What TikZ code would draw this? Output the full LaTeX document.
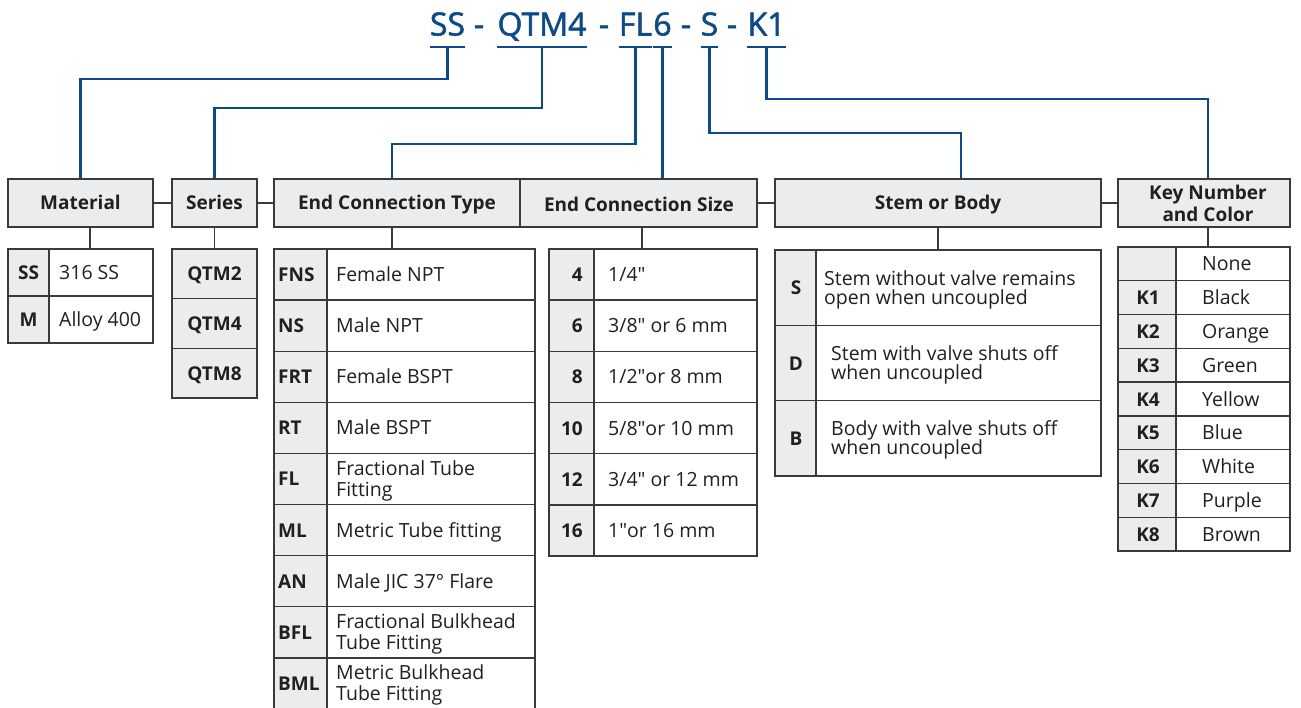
\documentclass[tikz,border=0pt]{standalone}
\usepackage{fontspec}
\setmainfont{Open Sans}
\newfontfamily\ttlff[RawFeature={embolden=1.6}]{Open Sans}
\definecolor{refblue}{HTML}{0B4A8C}
\definecolor{cellgray}{HTML}{EBECEE}
\definecolor{edgegray}{HTML}{3A3A3A}
\definecolor{inkc}{HTML}{231F20}
\newcommand\ttlfont{\ttlff\fontsize{32}{34}\selectfont}
\newcommand\hdrfont{\fontsize{19}{21}\selectfont\bfseries}
\newcommand\codefont{\fontsize{19}{21}\selectfont\bfseries}
\newcommand\bodyfont{\fontsize{19.5}{21}\selectfont}
\newcommand\qq{\textquotedbl}
\begin{document}
\begin{tikzpicture}[x=1pt,y=-1pt,
  bl/.style={draw=refblue, line width=2.2pt},
  gl/.style={draw=edgegray, line width=1.4pt},
  hdr/.style={draw=edgegray, line width=1.4pt, fill=cellgray, inner sep=0pt, font=\hdrfont, text=inkc, minimum height=48pt, text height=13.6pt, text depth=0pt},
  hdrtxt/.style={inner sep=0pt, font=\hdrfont, text=inkc},
  codecell/.style={draw=edgegray, line width=1.4pt, fill=cellgray, inner sep=0pt},
  txtcell/.style={draw=edgegray, line width=1.4pt, fill=white, inner sep=0pt},
  codetxt/.style={inner sep=0pt, font=\codefont, text=inkc},
  bodytxt/.style={inner sep=0pt, font=\bodyfont, text=inkc},
  ttl/.style={inner sep=0pt, anchor=base, font=\ttlfont, text=refblue},
]
\useasboundingbox (0,0) rectangle (1301,707);
\fill[white] (0,0) rectangle (1301,707);

% ---------- title ----------
\node[ttl] (tSS) at (447.5,35.5) {SS};
\node[ttl] (d1) at (479,35.5) {-};
\node[ttl] (tQ) at (542,35.5) {QTM4};
\node[ttl] (d2) at (604,35.5) {-};
\node[ttl] (tFL) at (635.5,35.5) {FL};
\node[ttl] (t6) at (662.5,35.5) {6};
\node[ttl] (d3) at (686,35.5) {-};
\node[ttl] (tS) at (709.5,35.5) {S};
\node[ttl] (d4) at (732,35.5) {-};
\node[ttl] (tK) at (766.5,35.5) {K1};

% ---------- headers ----------
\node[hdr, minimum width=145pt] (mat) at (80.5,203) {Material};
\node[hdr, minimum width=85pt] (ser) at (214.5,203) {Series};
\node[hdr, minimum width=246pt] (ect) at (397,203) {End Connection Type};
\node[hdr, minimum width=237pt] (ecs) at (638.5,203) {};
\node[hdrtxt, anchor=base] (ecst) at (639,211) {End Connection Size};
\node[hdr, minimum width=326pt] (stem) at (938,203) {Stem or Body};
\node[hdr, minimum width=172pt] (key) at (1204,203) {};
\node[hdrtxt, anchor=base] (key1) at (1208,199.5) {Key Number};
\node[hdrtxt, anchor=base] (key2) at (1208,221) {and Color};

% ---------- blue connectors ----------
\draw[bl] (tSS.west |- 0,47) -- (tSS.east |- 0,47);
\draw[bl] (tQ.west |- 0,47) -- (tQ.east |- 0,47);
\draw[bl] (tFL.west |- 0,47) -- (tFL.east |- 0,47);
\draw[bl] (t6.west |- 0,47) -- (t6.east |- 0,47);
\draw[bl] (tS.west |- 0,47) -- (tS.east |- 0,47);
\draw[bl] (tK.west |- 0,47) -- (tK.east |- 0,47);
\draw[bl] (tSS.center |- 0,47) -- ++(0,32) -| (mat.north);
\draw[bl] (tQ.center |- 0,47) -- ++(0,61) -| (ser.north);
\draw[bl] (tFL.center |- 0,47) -- ++(0,97) -| ([xshift=-5pt]ect.north);
\draw[bl] (t6.center |- 0,47) -- (t6.center |- ecs.north);
\draw[bl] (tS.center |- 0,47) -- ++(0,86) -| ([xshift=23pt]stem.north);
\draw[bl] (tK.center |- 0,47) -- ++(0,52) -| ([xshift=4pt]key.north);

% ---------- gray links between headers ----------
\draw[gl] (mat.east) -- (ser.west);
\draw[gl] (ser.east) -- (ect.west);
\draw[gl] (ecs.east) -- (stem.west);
\draw[gl] (stem.east) -- (key.west);

% ---------- Material table ----------
\foreach \c/\t [count=\i] in {SS/316 SS, M/Alloy 400}{
  \pgfmathsetmacro\yc{249+47*(\i-1)+23.5}
  \node[codecell, minimum width=41pt, minimum height=47pt] (matc\i) at (28.5,\yc) {};
  \node[txtcell, minimum width=104pt, minimum height=47pt] (matd\i) at (101,\yc) {};
  \node[codetxt, anchor=base] (matcl\i) at (28.5,\yc+7) {\c};
  \node[bodytxt, anchor=base west] (matdl\i) at (59,\yc+7) {\t};
}

% ---------- Series table ----------
\foreach \c [count=\i] in {QTM2,QTM4,QTM8}{
  \pgfmathsetmacro\yc{249+49.67*(\i-1)+24.83}
  \node[codecell, minimum width=85pt, minimum height=49.67pt] (serc\i) at (214.5,\yc) {};
  \node[codetxt, anchor=base] (sercl\i) at (214.5,\yc+7) {\c};
}

% ---------- End Connection Type table ----------
\foreach \c/\a/\b/\n [count=\i] in {FNS/Female NPT//1, NS/Male NPT//1, FRT/Female BSPT//1, RT/Male BSPT//1, FL/Fractional Tube/Fitting/2, ML/Metric Tube fitting//1, AN/Male JIC 37° Flare//1, BFL/Fractional Bulkhead/Tube Fitting/2, BML/Metric Bulkhead/Tube Fitting/2}{
  \pgfmathsetmacro\yc{249+51.1*(\i-1)+25.55}
  \node[codecell, minimum width=53pt, minimum height=51.1pt] (ectc\i) at (300.5,\yc) {};
  \node[txtcell, minimum width=208pt, minimum height=51.1pt] (ectd\i) at (431,\yc) {};
  \node[codetxt, anchor=base west] (ectcl\i) at (278,\yc+7) {\c};
  \ifnum\n=1
    \node[bodytxt, anchor=base west] (ectda\i) at (336,\yc+7) {\a};
  \else
    \node[bodytxt, anchor=base west] (ectda\i) at (336,\yc-3.5) {\a};
    \node[bodytxt, anchor=base west] (ectdb\i) at (336,\yc+17.5) {\b};
  \fi
}

% ---------- End Connection Size table ----------
\foreach \c/\t [count=\i] in {4/{1/4\qq}, 6/{3/8\qq{} or 6 mm}, 8/{1/2\qq{}or 8 mm}, 10/{5/8\qq{}or 10 mm}, 12/{3/4\qq{} or 12 mm}, 16/{1\qq{}or 16 mm}}{
  \pgfmathsetmacro\yc{249+51.17*(\i-1)+25.58}
  \node[codecell, minimum width=45pt, minimum height=51.17pt] (ecsc\i) at (571.5,\yc) {};
  \node[txtcell, minimum width=163pt, minimum height=51.17pt] (ecsd\i) at (675.5,\yc) {};
  \node[codetxt, anchor=base east] (ecscl\i) at (583,\yc+7) {\c};
  \node[bodytxt, anchor=base west] (ecsdl\i) at (608,\yc+7) {\t};
}

% ---------- Stem or Body table ----------
\foreach \c/\x/\a/\b [count=\i] in {S/824/Stem without valve remains/open when uncoupled, D/831/Stem with valve shuts off/when uncoupled, B/831/Body with valve shuts off/when uncoupled}{
  \pgfmathsetmacro\yc{250+75.33*(\i-1)+37.67}
  \node[codecell, minimum width=41pt, minimum height=75.33pt] (stc\i) at (795.5,\yc) {};
  \node[txtcell, minimum width=285pt, minimum height=75.33pt] (std\i) at (958.5,\yc) {};
  \node[codetxt, anchor=base] (stcl\i) at (796,\yc+7) {\c};
  \node[bodytxt, anchor=base west] (stda\i) at (\x,\yc-2.5) {\a};
  \node[bodytxt, anchor=base west] (stdb\i) at (\x,\yc+16.5) {\b};
}

% ---------- Key table ----------
\foreach \c/\t [count=\i] in {/None, K1/Black, K2/Orange, K3/Green, K4/Yellow, K5/Blue, K6/White, K7/Purple, K8/Brown}{
  \pgfmathsetmacro\yc{247+33.78*(\i-1)+16.89}
  \node[codecell, minimum width=58pt, minimum height=33.78pt] (kc\i) at (1147,\yc) {};
  \node[txtcell, minimum width=114pt, minimum height=33.78pt] (kd\i) at (1233,\yc) {};
  \node[codetxt, anchor=base] (kcl\i) at (1148,\yc+7) {\c};
  \node[bodytxt, anchor=base west] (kdl\i) at (1202,\yc+7) {\t};
}

% ---------- gray stubs header -> table ----------
\draw[gl] ([xshift=9.5pt]mat.south) -- ([xshift=9.5pt]mat.south |- matd1.north);
\draw[gl] (ser.south) -- (serc1.north);
\draw[gl] ([xshift=-5pt]ect.south) -- ([xshift=-5pt]ect.south |- ectd1.north);
\draw[gl] ([xshift=3.5pt]ecs.south) -- ([xshift=3.5pt]ecs.south |- ecsd1.north);
\draw[gl] (stem.south) -- (stem.south |- std1.north);
\draw[gl] ([xshift=4pt]key.south) -- ([xshift=4pt]key.south |- kd1.north);
\end{tikzpicture}
\end{document}
